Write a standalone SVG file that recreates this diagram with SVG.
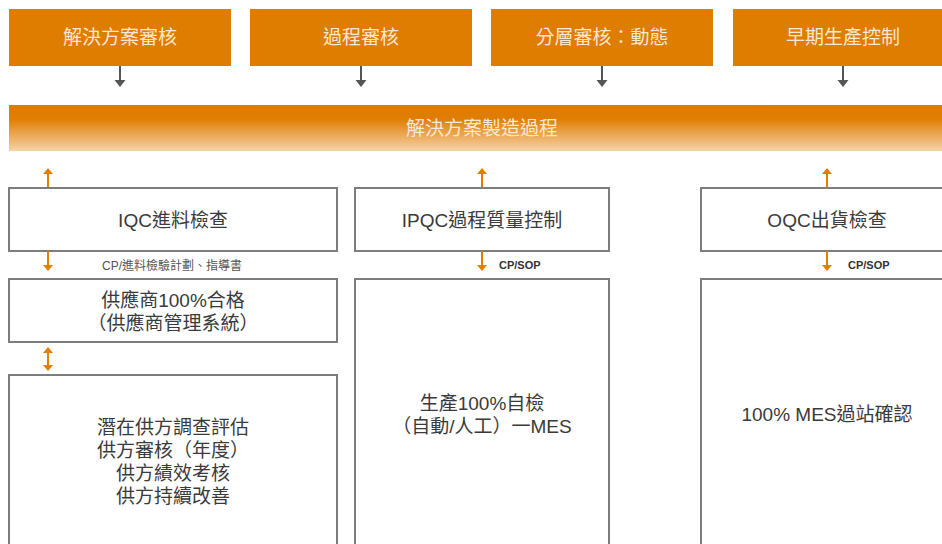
<svg xmlns="http://www.w3.org/2000/svg" width="942" height="544" viewBox="0 0 942 544">
<defs>
<linearGradient id="bar" x1="0" y1="0" x2="0" y2="1">
<stop offset="0" stop-color="#DE7C00"/>
<stop offset="0.3" stop-color="#DF7E02"/>
<stop offset="1" stop-color="#F6D2A8"/>
</linearGradient>
</defs>
<style>
.top{fill:#DE7D00}
.tt{fill:#FBE7D2;font-family:"Liberation Sans","Noto Sans CJK TC",sans-serif;font-size:19px;text-anchor:middle;dominant-baseline:central}
.box{fill:#fff;stroke:#7d7d7d;stroke-width:2}
.bt{fill:#3a3a3a;font-family:"Liberation Sans","Noto Sans CJK TC",sans-serif;font-size:19px;text-anchor:middle;dominant-baseline:central}
.sm{fill:#555;font-family:"Liberation Sans","Noto Sans CJK TC",sans-serif;font-size:12px;dominant-baseline:central}
.sb{fill:#333;font-family:"Liberation Sans","Noto Sans CJK TC",sans-serif;font-size:11px;font-weight:bold;dominant-baseline:central}
.ga{stroke:#555;stroke-width:2;fill:none}
.gh{fill:#555}
.oa{stroke:#E07F00;stroke-width:2;fill:none}
.oh{fill:#E07F00}
</style>
<g id="n-audit1"><rect class="top" x="9" y="9" width="222" height="57"/><text class="tt" x="120" y="37">解決方案審核</text></g>
<g id="n-audit2"><rect class="top" x="250" y="9" width="222" height="57"/><text class="tt" x="361" y="37">過程審核</text></g>
<g id="n-audit3"><rect class="top" x="491" y="9" width="222" height="57"/><text class="tt" x="602" y="37">分層審核：動態</text></g>
<g id="n-audit4"><rect class="top" x="733" y="9" width="222" height="57"/><text class="tt" x="843" y="37">早期生產控制</text></g>
<g id="n-bar"><rect x="9" y="105" width="940" height="46" fill="url(#bar)"/><text class="tt" x="482" y="128">解決方案製造過程</text></g>
<g id="n-iqc"><rect class="box" x="9" y="188" width="328" height="63"/><text class="bt" x="173" y="220">IQC進料檢查</text></g>
<g id="n-supplier"><rect class="box" x="9" y="279" width="328" height="63"/><text class="bt" x="173" y="300">供應商100%合格</text><text class="bt" x="173" y="323">（供應商管理系統）</text></g>
<g id="n-eval"><rect class="box" x="9" y="375" width="328" height="190"/><text class="bt" x="173" y="427">潛在供方調查評估</text><text class="bt" x="173" y="450">供方審核（年度）</text><text class="bt" x="173" y="473">供方績效考核</text><text class="bt" x="173" y="496">供方持續改善</text></g>
<g id="n-ipqc"><rect class="box" x="355" y="188" width="254" height="63"/><text class="bt" x="482" y="220">IPQC過程質量控制</text></g>
<g id="n-self"><rect class="box" x="355" y="279" width="254" height="290"/><text class="bt" x="482" y="403">生產100%自檢</text><text class="bt" x="482" y="426">（自動/人工）一MES</text></g>
<g id="n-oqc"><rect class="box" x="701" y="188" width="260" height="63"/><text class="bt" x="827" y="220">OQC出貨檢查</text></g>
<g id="n-mes"><rect class="box" x="701" y="279" width="260" height="290"/><text class="bt" x="827" y="414">100% MES過站確認</text></g>
<g id="connectors">
<path class="ga" d="M120,66V81"/><path class="gh" d="M114.5,80H125.5L120,87Z"/>
<path class="ga" d="M361,66V81"/><path class="gh" d="M355.5,80H366.5L361,87Z"/>
<path class="ga" d="M602,66V81"/><path class="gh" d="M596.5,80H607.5L602,87Z"/>
<path class="ga" d="M843,66V81"/><path class="gh" d="M837.5,80H848.5L843,87Z"/>
<path class="oa" d="M48,187V174"/><path class="oh" d="M43,174H53L48,168Z"/>
<path class="oa" d="M48,251V265"/><path class="oh" d="M43,265H53L48,271Z"/>
<path class="oa" d="M48,353V366"/><path class="oh" d="M43,353H53L48,347Z"/><path class="oh" d="M43,365H53L48,371Z"/>
<path class="oa" d="M482,187V174"/><path class="oh" d="M477,174H487L482,168Z"/>
<path class="oa" d="M482,251V265"/><path class="oh" d="M477,265H487L482,271Z"/>
<path class="oa" d="M827,187V174"/><path class="oh" d="M822,174H832L827,168Z"/>
<path class="oa" d="M827,251V265"/><path class="oh" d="M822,265H832L827,271Z"/>
<text class="sm" x="102" y="266">CP/進料檢驗計劃、指導書</text>
<text class="sb" x="499" y="265">CP/SOP</text>
<text class="sb" x="848" y="265">CP/SOP</text>
</g>
</svg>
